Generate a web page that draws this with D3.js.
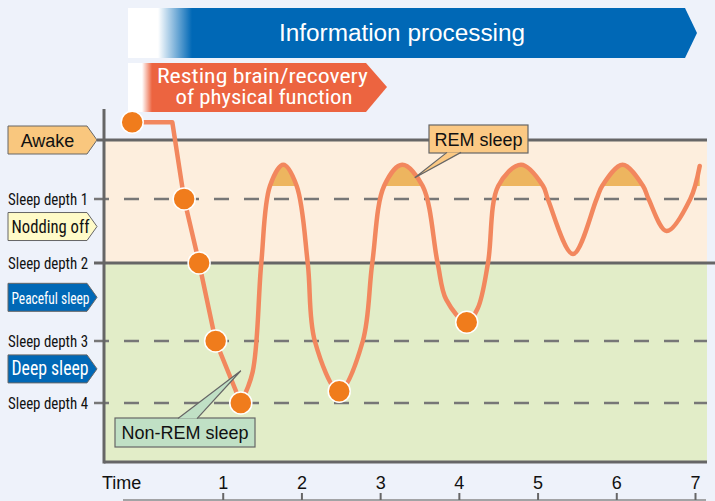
<!DOCTYPE html>
<html>
<head>
<meta charset="utf-8">
<script src="https://cdn.jsdelivr.net/npm/d3@7"></script>
<style>
  html, body { margin: 0; padding: 0; background: #eef2fa; }
  svg { display: block; }
</style>
</head>
<body>
<svg id="chart" width="715" height="501"></svg>
<script>
// ---------------- data ----------------
const tickValues = [1, 2, 3, 4, 5, 6, 7];
const depthLevels = [1, 2, 3, 4];
const depthLabels = ["Sleep depth 1", "Sleep depth 2", "Sleep depth 3", "Sleep depth 4"];
const stageNames = ["Awake", "Nodding off", "Peaceful sleep", "Deep sleep"];
const stageDepth = [0, 1.43, 2.44, 3.45];

// falling asleep (straight segments)
const descentTime  = [-0.15, 0.36, 0.51, 0.70, 0.91, 1.23];
const descentDepth = [-0.30, -0.30, 1.00, 2.00, 3.00, 4.00];

// sleep cycles (smooth curve)
const cycleTime  = [1.23, 1.38, 1.49, 1.60, 1.77, 1.94, 2.08, 2.17, 2.48, 2.78, 2.90, 3.05, 3.28, 3.54, 3.73, 3.84, 4.10, 4.24, 4.37, 4.50, 4.79, 5.07, 5.13, 5.45, 5.75, 5.82, 6.08, 6.34, 6.41, 6.64, 6.94, 7.06];
const cycleDepth = [4.00, 3.50, 2.00, 0.78, 0.42, 0.78, 2.00, 3.00, 3.81, 3.00, 2.00, 0.78, 0.42, 0.78, 2.00, 2.47, 2.76, 2.58, 2.00, 0.78, 0.42, 0.78, 1.00, 1.86, 1.00, 0.78, 0.42, 0.78, 1.00, 1.50, 1.00, 0.44];

const dotTime  = [-0.15, 0.51, 0.70, 0.91, 1.23, 2.48, 4.10];
const dotDepth = [-0.30, 1.00, 2.00, 3.00, 4.00, 3.81, 2.76];

const remThreshold = 0.78;

// ---------------- setup ----------------
const svg = d3.select("#chart");
const C = {
  bg: "#eef2fa", awakeBand: "#fdeedd", greenBand: "#e2edc8",
  axis: "#666666", dash: "#777777", curve: "#f2875e", dot: "#f07c1c",
  rem: "#edb55f", blue: "#0068b6", orange: "#ec6440"
};
const narrow = "'Liberation Sans Narrow','Arial Narrow','Roboto Condensed','Liberation Sans',Arial,sans-serif";
const sans = "'Liberation Sans',Arial,Helvetica,sans-serif";

const plotL = 104, plotR = 707, plotTop = 109, plotBot = 462;

const x = d3.scaleLinear().domain([0, 7]).range([144, 695]);
const y = d3.scaleLinear().domain([0, 1, 2, 3, 4]).range([140, 199, 263, 341, 403]);

svg.append("rect").attr("width", 715).attr("height", 501).attr("fill", C.bg);

const defs = svg.append("defs");
const gBlue = defs.append("linearGradient").attr("id", "gBlue")
  .attr("gradientUnits", "userSpaceOnUse").attr("x1", 128).attr("x2", 697).attr("y1", 0).attr("y2", 0);
gBlue.append("stop").attr("offset", (158 - 128) / 569).attr("stop-color", "#ffffff");
gBlue.append("stop").attr("offset", (192 - 128) / 569).attr("stop-color", C.blue);
gBlue.append("stop").attr("offset", 1).attr("stop-color", C.blue);
const gOr = defs.append("linearGradient").attr("id", "gOr")
  .attr("gradientUnits", "userSpaceOnUse").attr("x1", 128).attr("x2", 387).attr("y1", 0).attr("y2", 0);
gOr.append("stop").attr("offset", (142 - 128) / 259).attr("stop-color", "#ffffff");
gOr.append("stop").attr("offset", (152 - 128) / 259).attr("stop-color", C.orange);
gOr.append("stop").attr("offset", 1).attr("stop-color", C.orange);

defs.append("clipPath").attr("id", "remClip").append("rect")
  .attr("x", plotL).attr("y", plotTop).attr("width", plotR - plotL).attr("height", y(remThreshold) - plotTop);

// ---------------- banners ----------------
svg.append("path")
  .attr("d", "M128,8 H685 L697,33 L685,58 H128 Z")
  .attr("fill", "url(#gBlue)");
svg.append("text").attr("x", 402).attr("y", 41).attr("text-anchor", "middle")
  .attr("font-family", sans).attr("font-size", 23.5).attr("fill", "#fff")
  .attr("textLength", 246).attr("lengthAdjust", "spacingAndGlyphs")
  .text("Information processing");

svg.append("path")
  .attr("d", "M128,63 H366 L387,87 L366,112 H128 Z")
  .attr("fill", "url(#gOr)");
svg.append("text").attr("x", 262.5).attr("y", 82.5).attr("text-anchor", "middle")
  .attr("font-family", narrow).attr("font-size", 19.5).attr("fill", "#fff")
  .attr("textLength", 211).attr("lengthAdjust", "spacingAndGlyphs")
  .text("Resting brain/recovery");
svg.append("text").attr("x", 264).attr("y", 103.5).attr("text-anchor", "middle")
  .attr("font-family", narrow).attr("font-size", 19.5).attr("fill", "#fff")
  .attr("textLength", 177).attr("lengthAdjust", "spacingAndGlyphs")
  .text("of physical function");

// ---------------- bands ----------------
svg.append("rect").attr("x", plotL).attr("y", y(0)).attr("width", plotR - plotL)
  .attr("height", y(2) - y(0)).attr("fill", C.awakeBand);
svg.append("rect").attr("x", plotL).attr("y", y(2)).attr("width", plotR - plotL)
  .attr("height", plotBot - y(2)).attr("fill", C.greenBand);

// level lines
svg.append("line").attr("x1", 97).attr("x2", plotR).attr("y1", y(0)).attr("y2", y(0))
  .attr("stroke", C.axis).attr("stroke-width", 3);
depthLevels.forEach((d, i) => {
  const solid = d === 2;
  svg.append("line")
    .attr("x1", 94).attr("x2", solid ? 715 : plotR)
    .attr("y1", y(d)).attr("y2", y(d))
    .attr("stroke", solid ? C.axis : C.dash)
    .attr("stroke-width", solid ? 3 : 2.5)
    .attr("stroke-dasharray", solid ? null : "15,15");
  svg.append("text").attr("x", 8).attr("y", y(d) + 6)
    .attr("font-family", narrow).attr("font-size", 17).attr("fill", "#111")
    .attr("textLength", 80).attr("lengthAdjust", "spacingAndGlyphs")
    .text(depthLabels[i]);
});

// axes frame
svg.append("line").attr("x1", plotL).attr("x2", plotL).attr("y1", plotTop).attr("y2", plotBot + 1.5)
  .attr("stroke", C.axis).attr("stroke-width", 3);
svg.append("line").attr("x1", plotL).attr("x2", plotR).attr("y1", plotBot).attr("y2", plotBot)
  .attr("stroke", C.axis).attr("stroke-width", 3);

// ---------------- stage tags ----------------
const tagStyle = [
  { fill: "#f9c77e", text: "#111", size: 18, len: null },
  { fill: "#fffbc8", text: "#111", size: 19, len: 78 },
  { fill: C.blue, text: "#fff", size: 17, len: 78 },
  { fill: C.blue, text: "#fff", size: 19.5, len: 77 }
];
stageNames.forEach((name, i) => {
  const cy = y(stageDepth[i]);
  const s = tagStyle[i];
  svg.append("path")
    .attr("d", `M8,${cy - 14} H87 L97,${cy} L87,${cy + 14} H8 Z`)
    .attr("fill", s.fill).attr("stroke", "#666").attr("stroke-width", 1);
  const t = svg.append("text")
    .attr("x", i === 0 ? 47.5 : 11.5).attr("y", cy + 6.5)
    .attr("text-anchor", i === 0 ? "middle" : "start")
    .attr("font-family", i === 0 ? sans : narrow)
    .attr("font-size", s.size).attr("fill", s.text).text(name);
  if (s.len) t.attr("textLength", s.len).attr("lengthAdjust", "spacingAndGlyphs");
});

// ---------------- curve ----------------
const descent = descentTime.map((t, i) => [t, descentDepth[i]]);
const cycles = cycleTime.map((t, i) => [t, cycleDepth[i]]);
const smooth = d3.curveCatmullRom.alpha(0.5);

const remArea = d3.area().curve(smooth)
  .x(d => x(d[0])).y0(y(remThreshold)).y1(d => y(d[1]));
svg.append("path").datum(cycles).attr("d", remArea)
  .attr("fill", C.rem).attr("clip-path", "url(#remClip)");

const lineLin = d3.line().x(d => x(d[0])).y(d => y(d[1]));
const lineCurve = d3.line().curve(smooth).x(d => x(d[0])).y(d => y(d[1]));
svg.append("path").datum(descent).attr("d", lineLin)
  .attr("fill", "none").attr("stroke", C.curve).attr("stroke-width", 4.5).attr("stroke-linejoin", "round");
svg.append("path").datum(cycles).attr("d", lineCurve)
  .attr("fill", "none").attr("stroke", C.curve).attr("stroke-width", 4.5).attr("stroke-linecap", "round");

svg.selectAll("circle.dot").data(dotTime.map((t, i) => [t, dotDepth[i]])).join("circle")
  .attr("class", "dot")
  .attr("cx", d => x(d[0])).attr("cy", d => y(d[1])).attr("r", 11)
  .attr("fill", C.dot).attr("stroke", "#fff").attr("stroke-width", 1.5);

// ---------------- callouts ----------------
function callout(box, base, tip, fill, label, fontSize) {
  svg.append("rect").attr("x", box[0]).attr("y", box[1]).attr("width", box[2]).attr("height", box[3])
    .attr("fill", fill).attr("stroke", "#666").attr("stroke-width", 1.2);
  const by = base[2];
  svg.append("path").attr("d", `M${base[0]},${by} L${tip[0]},${tip[1]} L${base[1]},${by} Z`)
    .attr("fill", fill).attr("stroke", "none");
  svg.append("path").attr("d", `M${base[0]},${by} L${tip[0]},${tip[1]} L${base[1]},${by}`)
    .attr("fill", "none").attr("stroke", "#666").attr("stroke-width", 1.2);
  svg.append("text").attr("x", box[0] + box[2] / 2).attr("y", box[1] + box[3] / 2 + 6.5)
    .attr("text-anchor", "middle").attr("font-family", sans).attr("font-size", fontSize)
    .attr("fill", "#111").text(label);
}
callout([115, 418, 140, 29], [178, 197, 418.6], [x(1.23), y(3.48)], "#c0e0c5", "Non-REM sleep", 18);
callout([429, 125, 99, 28], [447, 461, 152.4], [x(3.44), y(0.64)], "#fbc984", "REM sleep", 18);

// ---------------- time axis ----------------
svg.append("line").attr("x1", 123).attr("x2", 706).attr("y1", 500).attr("y2", 500)
  .attr("stroke", "#888").attr("stroke-width", 1.5);
const axis = d3.axisTop(x).tickValues(tickValues).tickSize(7).tickPadding(4).tickFormat(d3.format("d"));
const gx = svg.append("g").attr("transform", "translate(0,500)").call(axis);
gx.select(".domain").remove();
gx.selectAll(".tick line").attr("stroke", C.axis).attr("stroke-width", 2);
gx.selectAll(".tick text").attr("font-family", sans).attr("font-size", 18).attr("fill", "#111");
svg.append("text").attr("x", 102).attr("y", 489).attr("font-family", sans).attr("font-size", 18)
  .attr("fill", "#111").text("Time");
</script>
</body>
</html>
